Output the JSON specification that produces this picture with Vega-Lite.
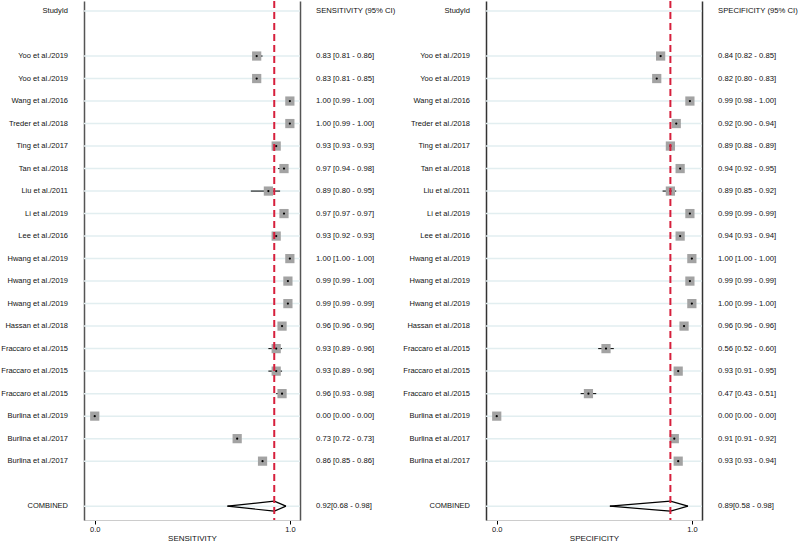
{
  "$schema": "https://vega.github.io/schema/vega-lite/v6.json",
  "padding": 0,
  "bounds": "flush",
  "spacing": 16,
  "config": {"font": "Liberation Sans", "view": {"stroke": null}},
  "datasets": {
    "rows": [
      {"id": "r00", "study": "StudyId", "kind": "header", "seCI": "SENSITIVITY (95% CI)", "spCI": "SPECIFICITY (95% CI)"},
      {"id": "r02", "study": "Yoo et al./2019", "kind": "study", "se": 0.83, "seLo": 0.81, "seHi": 0.86, "seCI": "0.83 [0.81 - 0.86]", "sp": 0.84, "spLo": 0.82, "spHi": 0.85, "spCI": "0.84 [0.82 - 0.85]"},
      {"id": "r03", "study": "Yoo et al./2019", "kind": "study", "se": 0.83, "seLo": 0.81, "seHi": 0.85, "seCI": "0.83 [0.81 - 0.85]", "sp": 0.82, "spLo": 0.80, "spHi": 0.83, "spCI": "0.82 [0.80 - 0.83]"},
      {"id": "r04", "study": "Wang et al./2016", "kind": "study", "se": 1.00, "seLo": 0.99, "seHi": 1.00, "seCI": "1.00 [0.99 - 1.00]", "sp": 0.99, "spLo": 0.98, "spHi": 1.00, "spCI": "0.99 [0.98 - 1.00]"},
      {"id": "r05", "study": "Treder et al./2018", "kind": "study", "se": 1.00, "seLo": 0.99, "seHi": 1.00, "seCI": "1.00 [0.99 - 1.00]", "sp": 0.92, "spLo": 0.90, "spHi": 0.94, "spCI": "0.92 [0.90 - 0.94]"},
      {"id": "r06", "study": "Ting et al./2017", "kind": "study", "se": 0.93, "seLo": 0.93, "seHi": 0.93, "seCI": "0.93 [0.93 - 0.93]", "sp": 0.89, "spLo": 0.88, "spHi": 0.89, "spCI": "0.89 [0.88 - 0.89]"},
      {"id": "r07", "study": "Tan et al./2018", "kind": "study", "se": 0.97, "seLo": 0.94, "seHi": 0.98, "seCI": "0.97 [0.94 - 0.98]", "sp": 0.94, "spLo": 0.92, "spHi": 0.95, "spCI": "0.94 [0.92 - 0.95]"},
      {"id": "r08", "study": "Liu et al./2011", "kind": "study", "se": 0.89, "seLo": 0.80, "seHi": 0.95, "seCI": "0.89 [0.80 - 0.95]", "sp": 0.89, "spLo": 0.85, "spHi": 0.92, "spCI": "0.89 [0.85 - 0.92]"},
      {"id": "r09", "study": "Li et al./2019", "kind": "study", "se": 0.97, "seLo": 0.97, "seHi": 0.97, "seCI": "0.97 [0.97 - 0.97]", "sp": 0.99, "spLo": 0.99, "spHi": 0.99, "spCI": "0.99 [0.99 - 0.99]"},
      {"id": "r10", "study": "Lee et al./2016", "kind": "study", "se": 0.93, "seLo": 0.92, "seHi": 0.93, "seCI": "0.93 [0.92 - 0.93]", "sp": 0.94, "spLo": 0.93, "spHi": 0.94, "spCI": "0.94 [0.93 - 0.94]"},
      {"id": "r11", "study": "Hwang et al./2019", "kind": "study", "se": 1.00, "seLo": 1.00, "seHi": 1.00, "seCI": "1.00 [1.00 - 1.00]", "sp": 1.00, "spLo": 1.00, "spHi": 1.00, "spCI": "1.00 [1.00 - 1.00]"},
      {"id": "r12", "study": "Hwang et al./2019", "kind": "study", "se": 0.99, "seLo": 0.99, "seHi": 1.00, "seCI": "0.99 [0.99 - 1.00]", "sp": 0.99, "spLo": 0.99, "spHi": 0.99, "spCI": "0.99 [0.99 - 0.99]"},
      {"id": "r13", "study": "Hwang et al./2019", "kind": "study", "se": 0.99, "seLo": 0.99, "seHi": 0.99, "seCI": "0.99 [0.99 - 0.99]", "sp": 1.00, "spLo": 0.99, "spHi": 1.00, "spCI": "1.00 [0.99 - 1.00]"},
      {"id": "r14", "study": "Hassan et al./2018", "kind": "study", "se": 0.96, "seLo": 0.96, "seHi": 0.96, "seCI": "0.96 [0.96 - 0.96]", "sp": 0.96, "spLo": 0.96, "spHi": 0.96, "spCI": "0.96 [0.96 - 0.96]"},
      {"id": "r15", "study": "Fraccaro et al./2015", "kind": "study", "se": 0.93, "seLo": 0.89, "seHi": 0.96, "seCI": "0.93 [0.89 - 0.96]", "sp": 0.56, "spLo": 0.52, "spHi": 0.60, "spCI": "0.56 [0.52 - 0.60]"},
      {"id": "r16", "study": "Fraccaro et al./2015", "kind": "study", "se": 0.93, "seLo": 0.89, "seHi": 0.96, "seCI": "0.93 [0.89 - 0.96]", "sp": 0.93, "spLo": 0.91, "spHi": 0.95, "spCI": "0.93 [0.91 - 0.95]"},
      {"id": "r17", "study": "Fraccaro et al./2015", "kind": "study", "se": 0.96, "seLo": 0.93, "seHi": 0.98, "seCI": "0.96 [0.93 - 0.98]", "sp": 0.47, "spLo": 0.43, "spHi": 0.51, "spCI": "0.47 [0.43 - 0.51]"},
      {"id": "r18", "study": "Burlina et al./2019", "kind": "study", "se": 0.00, "seLo": 0.00, "seHi": 0.00, "seCI": "0.00 [0.00 - 0.00]", "sp": 0.00, "spLo": 0.00, "spHi": 0.00, "spCI": "0.00 [0.00 - 0.00]"},
      {"id": "r19", "study": "Burlina et al./2017", "kind": "study", "se": 0.73, "seLo": 0.72, "seHi": 0.73, "seCI": "0.73 [0.72 - 0.73]", "sp": 0.91, "spLo": 0.91, "spHi": 0.92, "spCI": "0.91 [0.91 - 0.92]"},
      {"id": "r20", "study": "Burlina et al./2017", "kind": "study", "se": 0.86, "seLo": 0.85, "seHi": 0.86, "seCI": "0.86 [0.85 - 0.86]", "sp": 0.93, "spLo": 0.93, "spHi": 0.94, "spCI": "0.93 [0.93 - 0.94]"},
      {"id": "r22", "study": "COMBINED", "kind": "combined", "se": 0.92, "seLo": 0.68, "seHi": 0.98, "seCI": "0.92[0.68 - 0.98]", "sp": 0.89, "spLo": 0.58, "spHi": 0.98, "spCI": "0.89[0.58 - 0.98]"}
    ]
  },
  "hconcat": [
    {
      "width": 68, "height": 519,
      "data": {"name": "rows"},
      "mark": {"type": "text", "align": "right", "baseline": "middle", "fontSize": 7.5, "color": "#111"},
      "encoding": {
        "y": {"field": "id", "type": "ordinal", "scale": {"type": "point", "padding": 0.53, "align": 0.42, "domain": ["r00","r01","r02","r03","r04","r05","r06","r07","r08","r09","r10","r11","r12","r13","r14","r15","r16","r17","r18","r19","r20","r21","r22"]}, "axis": null},
        "x": {"value": "width"},
        "text": {"field": "study"}
      }
    },
    {
      "width": 216, "height": 519,
      "data": {"name": "rows"},
      "resolve": {"axis": {"y": "independent"}},
      "layer": [
        {
          "mark": {"type": "rule", "color": "#e2eef0", "strokeWidth": 1.5},
          "encoding": {
            "y": {"field": "id", "type": "ordinal", "scale": {"type": "point", "padding": 0.53, "align": 0.42, "domain": ["r00","r01","r02","r03","r04","r05","r06","r07","r08","r09","r10","r11","r12","r13","r14","r15","r16","r17","r18","r19","r20","r21","r22"]}, "axis": {"orient": "left", "domain": true, "domainColor": "#555", "domainWidth": 1.5, "labels": false, "ticks": false, "grid": false, "title": null}}
          }
        },
        {
          "transform": [{"filter": "datum.kind === 'study'"}],
          "mark": {"type": "rule", "color": "black", "strokeWidth": 1},
          "encoding": {
            "x": {"field": "seLo", "type": "quantitative", "scale": {"domain": [-0.055, 1.052], "nice": false, "zero": false}, "axis": {"values": [0, 1], "format": ".1f", "title": "SENSITIVITY", "grid": false, "domainColor": "#ccc", "tickColor": "#000", "tickSize": 4, "labelFontSize": 7.5, "labelColor": "#111", "titleFontSize": 8, "titleFontWeight": "normal", "titleColor": "#111", "labelPadding": 1, "titlePadding": 2}},
            "x2": {"field": "seHi"},
            "y": {"field": "id", "type": "ordinal", "axis": null}
          }
        },
        {
          "transform": [{"filter": "datum.kind === 'study'"}],
          "mark": {"type": "square", "filled": true, "color": "#a3a3a3", "size": 85, "opacity": 1},
          "encoding": {
            "x": {"field": "se", "type": "quantitative", "title": "SENSITIVITY"},
            "y": {"field": "id", "type": "ordinal", "axis": {"orient": "right", "domain": true, "domainColor": "#555", "domainWidth": 1.5, "labels": false, "ticks": false, "grid": false, "title": null}}
          }
        },
        {
          "transform": [{"filter": "datum.kind === 'study'"}],
          "mark": {"type": "circle", "color": "black", "size": 5, "opacity": 1},
          "encoding": {
            "x": {"field": "se", "type": "quantitative", "title": "SENSITIVITY"},
            "y": {"field": "id", "type": "ordinal", "axis": null}
          }
        },
        {
          "transform": [{"filter": "datum.kind === 'combined'"}],
          "mark": {"type": "rule", "color": "black", "strokeWidth": 1.2, "y2Offset": -5},
          "encoding": {
            "x": {"field": "seLo", "type": "quantitative", "title": "SENSITIVITY"}, "x2": {"field": "se"},
            "y": {"field": "id", "type": "ordinal", "axis": null}, "y2": {"field": "id"}
          }
        },
        {
          "transform": [{"filter": "datum.kind === 'combined'"}],
          "mark": {"type": "rule", "color": "black", "strokeWidth": 1.2, "yOffset": -5},
          "encoding": {
            "x": {"field": "se", "type": "quantitative", "title": "SENSITIVITY"}, "x2": {"field": "seHi"},
            "y": {"field": "id", "type": "ordinal", "axis": null}, "y2": {"field": "id"}
          }
        },
        {
          "transform": [{"filter": "datum.kind === 'combined'"}],
          "mark": {"type": "rule", "color": "black", "strokeWidth": 1.2, "y2Offset": 5},
          "encoding": {
            "x": {"field": "seLo", "type": "quantitative", "title": "SENSITIVITY"}, "x2": {"field": "se"},
            "y": {"field": "id", "type": "ordinal", "axis": null}, "y2": {"field": "id"}
          }
        },
        {
          "transform": [{"filter": "datum.kind === 'combined'"}],
          "mark": {"type": "rule", "color": "black", "strokeWidth": 1.2, "yOffset": 5},
          "encoding": {
            "x": {"field": "se", "type": "quantitative", "title": "SENSITIVITY"}, "x2": {"field": "seHi"},
            "y": {"field": "id", "type": "ordinal", "axis": null}, "y2": {"field": "id"}
          }
        },
        {
          "transform": [{"filter": "datum.kind === 'combined'"}],
          "mark": {"type": "rule", "color": "#d61f3c", "strokeWidth": 2, "strokeDash": [7, 4]},
          "encoding": {
            "x": {"field": "se", "type": "quantitative", "title": "SENSITIVITY"}
          }
        }
      ]
    },
    {
      "width": 70, "height": 519,
      "data": {"name": "rows"},
      "mark": {"type": "text", "align": "left", "baseline": "middle", "fontSize": 7.7, "color": "#111"},
      "encoding": {
        "y": {"field": "id", "type": "ordinal", "scale": {"type": "point", "padding": 0.53, "align": 0.42, "domain": ["r00","r01","r02","r03","r04","r05","r06","r07","r08","r09","r10","r11","r12","r13","r14","r15","r16","r17","r18","r19","r20","r21","r22"]}, "axis": null},
        "x": {"value": 0},
        "text": {"field": "seCI"}
      }
    },
    {
      "width": 68, "height": 519,
      "data": {"name": "rows"},
      "mark": {"type": "text", "align": "right", "baseline": "middle", "fontSize": 7.5, "color": "#111"},
      "encoding": {
        "y": {"field": "id", "type": "ordinal", "scale": {"type": "point", "padding": 0.53, "align": 0.42, "domain": ["r00","r01","r02","r03","r04","r05","r06","r07","r08","r09","r10","r11","r12","r13","r14","r15","r16","r17","r18","r19","r20","r21","r22"]}, "axis": null},
        "x": {"value": "width"},
        "text": {"field": "study"}
      }
    },
    {
      "width": 216, "height": 519,
      "data": {"name": "rows"},
      "resolve": {"axis": {"y": "independent"}},
      "layer": [
        {
          "mark": {"type": "rule", "color": "#e2eef0", "strokeWidth": 1.5},
          "encoding": {
            "y": {"field": "id", "type": "ordinal", "scale": {"type": "point", "padding": 0.53, "align": 0.42, "domain": ["r00","r01","r02","r03","r04","r05","r06","r07","r08","r09","r10","r11","r12","r13","r14","r15","r16","r17","r18","r19","r20","r21","r22"]}, "axis": {"orient": "left", "domain": true, "domainColor": "#333", "domainWidth": 1.5, "labels": false, "ticks": false, "grid": false, "title": null}}
          }
        },
        {
          "transform": [{"filter": "datum.kind === 'study'"}],
          "mark": {"type": "rule", "color": "black", "strokeWidth": 1},
          "encoding": {
            "x": {"field": "spLo", "type": "quantitative", "scale": {"domain": [-0.055, 1.052], "nice": false, "zero": false}, "axis": {"values": [0, 1], "format": ".1f", "title": "SPECIFICITY", "grid": false, "domainColor": "#ccc", "tickColor": "#000", "tickSize": 4, "labelFontSize": 7.5, "labelColor": "#111", "titleFontSize": 8, "titleFontWeight": "normal", "titleColor": "#111", "labelPadding": 1, "titlePadding": 2}},
            "x2": {"field": "spHi"},
            "y": {"field": "id", "type": "ordinal", "axis": null}
          }
        },
        {
          "transform": [{"filter": "datum.kind === 'study'"}],
          "mark": {"type": "square", "filled": true, "color": "#a3a3a3", "size": 85, "opacity": 1},
          "encoding": {
            "x": {"field": "sp", "type": "quantitative", "title": "SPECIFICITY"},
            "y": {"field": "id", "type": "ordinal", "axis": {"orient": "right", "domain": true, "domainColor": "#333", "domainWidth": 1.5, "labels": false, "ticks": false, "grid": false, "title": null}}
          }
        },
        {
          "transform": [{"filter": "datum.kind === 'study'"}],
          "mark": {"type": "circle", "color": "black", "size": 5, "opacity": 1},
          "encoding": {
            "x": {"field": "sp", "type": "quantitative", "title": "SPECIFICITY"},
            "y": {"field": "id", "type": "ordinal", "axis": null}
          }
        },
        {
          "transform": [{"filter": "datum.kind === 'combined'"}],
          "mark": {"type": "rule", "color": "black", "strokeWidth": 1.2, "y2Offset": -5},
          "encoding": {
            "x": {"field": "spLo", "type": "quantitative", "title": "SPECIFICITY"}, "x2": {"field": "sp"},
            "y": {"field": "id", "type": "ordinal", "axis": null}, "y2": {"field": "id"}
          }
        },
        {
          "transform": [{"filter": "datum.kind === 'combined'"}],
          "mark": {"type": "rule", "color": "black", "strokeWidth": 1.2, "yOffset": -5},
          "encoding": {
            "x": {"field": "sp", "type": "quantitative", "title": "SPECIFICITY"}, "x2": {"field": "spHi"},
            "y": {"field": "id", "type": "ordinal", "axis": null}, "y2": {"field": "id"}
          }
        },
        {
          "transform": [{"filter": "datum.kind === 'combined'"}],
          "mark": {"type": "rule", "color": "black", "strokeWidth": 1.2, "y2Offset": 5},
          "encoding": {
            "x": {"field": "spLo", "type": "quantitative", "title": "SPECIFICITY"}, "x2": {"field": "sp"},
            "y": {"field": "id", "type": "ordinal", "axis": null}, "y2": {"field": "id"}
          }
        },
        {
          "transform": [{"filter": "datum.kind === 'combined'"}],
          "mark": {"type": "rule", "color": "black", "strokeWidth": 1.2, "yOffset": 5},
          "encoding": {
            "x": {"field": "sp", "type": "quantitative", "title": "SPECIFICITY"}, "x2": {"field": "spHi"},
            "y": {"field": "id", "type": "ordinal", "axis": null}, "y2": {"field": "id"}
          }
        },
        {
          "transform": [{"filter": "datum.kind === 'combined'"}],
          "mark": {"type": "rule", "color": "#d61f3c", "strokeWidth": 2, "strokeDash": [7, 4]},
          "encoding": {
            "x": {"field": "sp", "type": "quantitative", "title": "SPECIFICITY"}
          }
        }
      ]
    },
    {
      "width": 80, "height": 519,
      "data": {"name": "rows"},
      "mark": {"type": "text", "align": "left", "baseline": "middle", "fontSize": 7.7, "color": "#111"},
      "encoding": {
        "y": {"field": "id", "type": "ordinal", "scale": {"type": "point", "padding": 0.53, "align": 0.42, "domain": ["r00","r01","r02","r03","r04","r05","r06","r07","r08","r09","r10","r11","r12","r13","r14","r15","r16","r17","r18","r19","r20","r21","r22"]}, "axis": null},
        "x": {"value": 0},
        "text": {"field": "spCI"}
      }
    }
  ]
}
